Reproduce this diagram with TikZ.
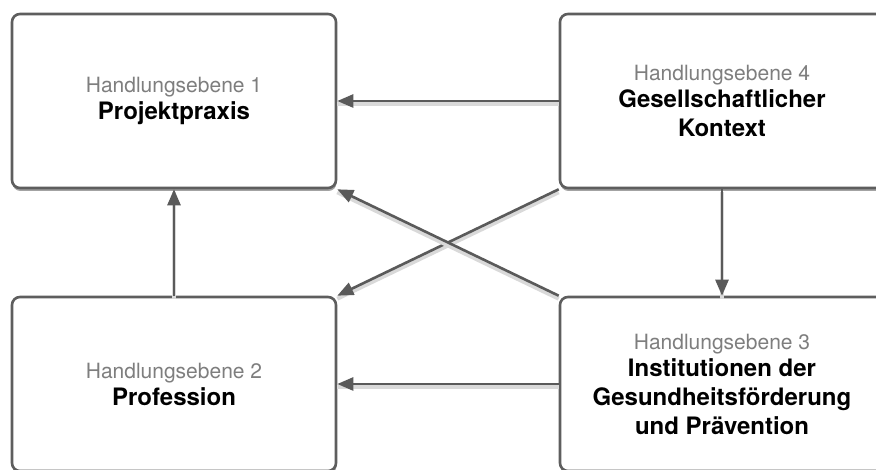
\documentclass[tikz,border=0pt]{standalone}
\usepackage{fontspec}
\setmainfont{TeX Gyre Heros}
\usetikzlibrary{arrows.meta,shadows}
\definecolor{boxline}{HTML}{5E5E5E}
\definecolor{arrowcol}{HTML}{5A5A5A}
\definecolor{subtxt}{HTML}{7E7E7E}
\tikzset{
  levelbox/.style={draw=boxline, line width=2.6pt, fill=white, rounded corners=8pt,
    minimum width=324pt, minimum height=174pt, inner sep=0pt, align=center,
    font=\bfseries\fontsize{24}{29}\selectfont,
    drop shadow={shadow xshift=0.5pt, shadow yshift=-3pt, opacity=0.45, fill=black!80}},
  flow/.style={draw=arrowcol, line width=2.6pt, -{Triangle[length=16pt,width=13pt]},
    preaction={draw=black!15, line width=4pt, transform canvas={yshift=-3pt}, -}},
}
\newcommand{\lvl}[1]{{\mdseries\color{subtxt}\fontsize{21}{27}\selectfont #1}}
\begin{document}
\begin{tikzpicture}[x=1pt,y=-1pt]
\useasboundingbox (0,0) rectangle (876,470);
\clip (0,0) rectangle (876,470);
\fill[white] (0,0) rectangle (876,470);
\node[levelbox] (b1) at (174,101) {\lvl{Handlungsebene 1}\\[-2pt]Projektpraxis};
\node[levelbox] (b4) at (722,101) {\lvl{Handlungsebene 4}\\[-2pt]Gesellschaftlicher\\Kontext};
\node[levelbox] (b2) at (174,384) {\lvl{Handlungsebene 2}\\[-2pt]Profession};
\node[levelbox] (b3) at (722,384) {\lvl{Handlungsebene 3}\\[-2pt]Institutionen der\\Gesundheitsförderung\\und Prävention};
\draw[flow] (b4.west) -- (b1.east);
\draw[flow] (b3.west) -- (b2.east);
\draw[flow] (b2.north) -- (b1.south);
\draw[flow] (b4.south) -- (b3.north);
\draw[flow] (b4.south west) -- (b2.north east);
\draw[flow] (b3.north west) -- (b1.south east);
\end{tikzpicture}
\end{document}
